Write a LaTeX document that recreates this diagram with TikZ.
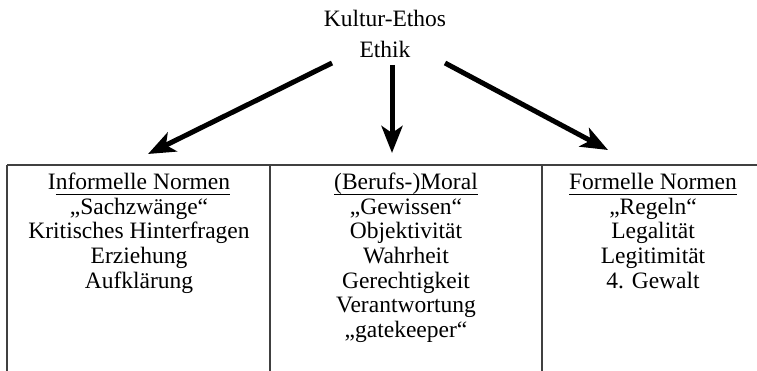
\documentclass[tikz,border=0pt]{standalone}
\usepackage{fontspec}
\setmainfont{Liberation Serif}
\usetikzlibrary{arrows.meta}
\newcommand\myul[1]{\setbox0\hbox{#1}\rlap{\rule[-4.5pt]{\wd0}{0.9pt}}\box0}
\begin{document}
\begin{tikzpicture}[x=1pt,y=-1pt,
  txt/.style={font=\fontsize{23.5}{24}\selectfont, anchor=base, inner sep=0pt},
  arr/.style={line width=5pt, -{Stealth[length=27pt,width=21pt,inset=7pt]}},
  rulel/.style={line width=1.2pt, black!75}]
\useasboundingbox (0,0) rectangle (757,371);
% title
\node[txt] (t1) at (385,27) {Kultur-Ethos};
\node[txt] (t2) at (385,58) {Ethik};
% arrow ends
\coordinate (s1) at (332,63);
\coordinate (s2) at (392,65);
\coordinate (s3) at (445,63);
\coordinate (e1) at (148,154);
\coordinate (e2) at (392,153);
\coordinate (e3) at (608,150);
\draw[arr] (s1) -- (e1);
\draw[arr] (s2) -- (e2);
\draw[arr] (s3) -- (e3);
% table rules
\coordinate (tl) at (7,165);
\coordinate (tr) at (757,165);
\coordinate (m1) at (270,165);
\coordinate (m2) at (542,165);
\coordinate (bl) at (7,371);
\coordinate (b1) at (270,371);
\coordinate (b2) at (542,371);
\draw[rulel] (tl) -- (tr);
\draw[rulel] (tl) -- (bl);
\draw[rulel] (m1) -- (b1);
\draw[rulel] (m2) -- (b2);
% columns
\foreach \t [count=\i] in {{I\myul{nformelle Normen}},„Sachzwänge“,Kritisches Hinterfragen,Erziehung,Aufklärung}
  \node[txt] (a\i) at (139,{190+24.5*(\i-1)}) {\t};
\foreach \t [count=\i] in {{\myul{(Berufs-)Moral}},„Gewissen“,Objektivität,Wahrheit,Gerechtigkeit,Verantwortung,„gatekeeper“}
  \node[txt] (b\i) at (406,{190+24.5*(\i-1)}) {\t};
\foreach \t [count=\i] in {{\myul{Formelle Normen}},„Regeln“,Legalität,Legitimität,4. Gewalt}
  \node[txt] (c\i) at (653,{190+24.5*(\i-1)}) {\t};
\end{tikzpicture}
\end{document}
